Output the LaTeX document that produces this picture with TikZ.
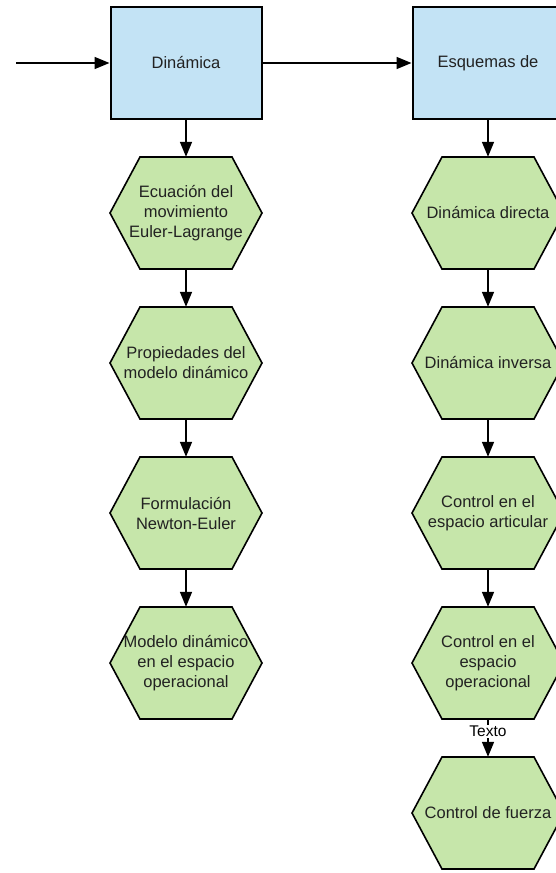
\documentclass[tikz,border=0pt]{standalone}
\usepackage{fontspec}
\setmainfont{Liberation Sans}
\usetikzlibrary{arrows.meta}
\definecolor{boxblue}{HTML}{C3E3F5}
\definecolor{hexgreen}{HTML}{C6E6AA}
\definecolor{txt}{HTML}{222222}
\tikzset{
  blockbox/.style={draw=black, line width=2pt, fill=boxblue, minimum width=151pt, minimum height=112pt, inner sep=0pt, text=txt, font=\fontsize{16.5}{20}\selectfont, align=center},
  hexline/.style={draw=black, line width=1.6pt, fill=hexgreen, line join=miter},
  hexbox/.style={minimum width=152pt, minimum height=112pt, inner sep=0pt, text=txt, font=\fontsize{16.5}{20}\selectfont, align=center},
  conn/.style={draw=black, line width=1.6pt, -{Triangle[length=15pt,width=12pt]}},
  lbl/.style={fill=white, inner sep=1pt, text=black, font=\fontsize{15.5}{18}\selectfont}
}
\newcommand\hexnode[3]{%
  \filldraw[hexline, shift={(#2)}] (-76,0) -- (-46,-56) -- (46,-56) -- (76,0) -- (46,56) -- (-46,56) -- cycle;
  \node[hexbox] (#1) at (#2) {#3};
}
\begin{document}
\begin{tikzpicture}[x=1pt,y=-1pt]
\useasboundingbox (0,0) rectangle (555,873);
\coordinate (start) at (16,63);
\node[blockbox] (din) at (186,63) {Dinámica};
\node[blockbox] (esq) at (488,63) {Esquemas de};

\hexnode{l1}{186,213}{Ecuación del\\movimiento\\Euler-Lagrange}
\hexnode{l2}{186,363}{Propiedades del\\modelo dinámico}
\hexnode{l3}{186,513}{Formulación\\Newton-Euler}
\hexnode{l4}{186,663}{Modelo dinámico\\en el espacio\\operacional}

\hexnode{r1}{488,213}{Dinámica directa}
\hexnode{r2}{488,363}{Dinámica inversa}
\hexnode{r3}{488,513}{Control en el\\espacio articular}
\hexnode{r4}{488,663}{Control en el\\espacio\\operacional}
\hexnode{r5}{488,813}{Control de fuerza}

\draw[conn] (start) -- (din.west);
\draw[conn] (din.east) -- (esq.west);
\draw[conn] (din.south) -- (l1.north);
\draw[conn] (l1.south) -- (l2.north);
\draw[conn] (l2.south) -- (l3.north);
\draw[conn] (l3.south) -- (l4.north);
\draw[conn] (esq.south) -- (r1.north);
\draw[conn] (r1.south) -- (r2.north);
\draw[conn] (r2.south) -- (r3.north);
\draw[conn] (r3.south) -- (r4.north);
\draw[conn] (r4.south) -- node[lbl, pos=0.32] (tx) {Texto} (r5.north);
\end{tikzpicture}
\end{document}
